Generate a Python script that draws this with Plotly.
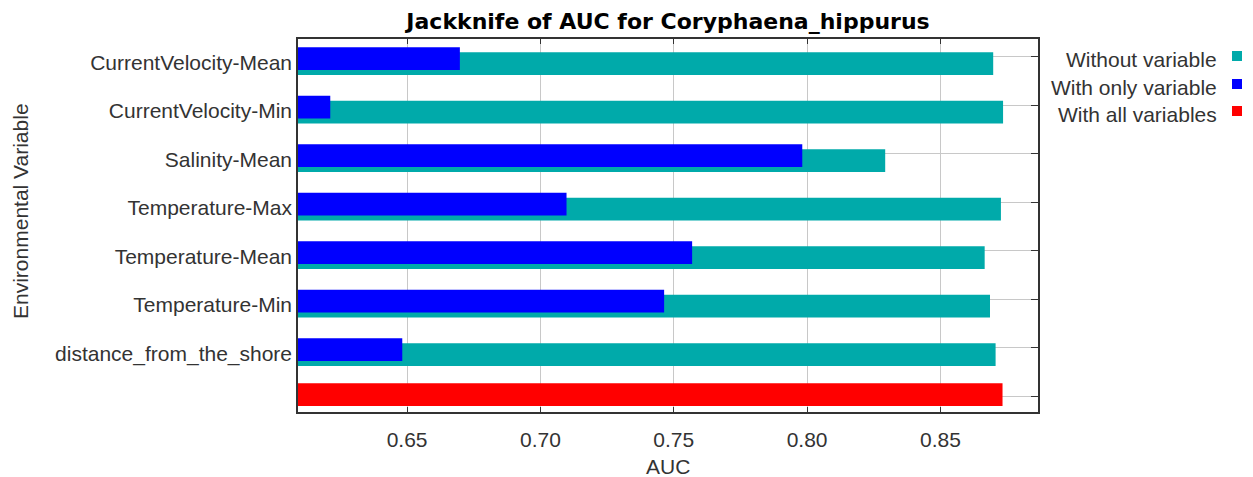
import plotly.graph_objects as go

# Jackknife test results (AUC) for each environmental variable
variables = [
    "CurrentVelocity-Mean",
    "CurrentVelocity-Min",
    "Salinity-Mean",
    "Temperature-Max",
    "Temperature-Mean",
    "Temperature-Min",
    "distance_from_the_shore",
]
without_variable = [0.8698, 0.8735, 0.8293, 0.8727, 0.8666, 0.8686, 0.8707]
with_only_variable = [0.6698, 0.6212, 0.7982, 0.7098, 0.7569, 0.7464, 0.6482]
with_all_variables = 0.8733

legend_labels = ["Without variable", "With only variable", "With all variables"]
colors = ["#00AAAA", "#0000FF", "#FF0000"]

x_ticks = [0.65, 0.70, 0.75, 0.80, 0.85]
x_range = [0.6091, 0.8866]

# numeric row positions: one row per variable plus the "all variables" row
rows = list(range(len(variables)))
all_row = len(variables)

FONT = "Liberation Sans, Arial, sans-serif"
TEXT_GRAY = "#333333"
BAR_W = 0.468

fig = go.Figure()

fig.add_trace(go.Bar(
    y=rows, x=[v - x_range[0] for v in without_variable], orientation="h",
    base=x_range[0], name=legend_labels[0],
    marker=dict(color=colors[0], line=dict(width=0)),
    width=BAR_W, offset=-0.087, showlegend=False,
))
fig.add_trace(go.Bar(
    y=rows, x=[v - x_range[0] for v in with_only_variable], orientation="h",
    base=x_range[0], name=legend_labels[1],
    marker=dict(color=colors[1], line=dict(width=0)),
    width=BAR_W, offset=-0.190, showlegend=False,
))
fig.add_trace(go.Bar(
    y=[all_row], x=[with_all_variables - x_range[0]], orientation="h",
    base=x_range[0], name=legend_labels[2],
    marker=dict(color=colors[2], line=dict(width=0)),
    width=BAR_W, offset=-0.262, showlegend=False,
))

fig.update_layout(
    width=1253, height=477,
    margin=dict(l=298, r=215, t=39, b=65),
    paper_bgcolor="white", plot_bgcolor="white",
    barmode="overlay",
    font=dict(family=FONT, size=21, color=TEXT_GRAY),
    title=dict(
        text="<b>Jackknife of AUC for Coryphaena_hippurus</b>",
        x=0.5, xref="paper", xanchor="center",
        y=1 - 21 / 477, yanchor="middle",
        font=dict(family="DejaVu Sans, sans-serif", size=22, color="black"),
    ),
)

fig.update_xaxes(
    range=x_range,
    tickvals=x_ticks,
    ticktext=[f"{v:.2f}" for v in x_ticks],
    showgrid=True, gridcolor="#c8c8c8", gridwidth=1,
    ticks="inside", ticklen=5, tickcolor="#333333",
    showline=True, linecolor="#333333", linewidth=1.5,
    mirror="ticks",
    zeroline=False,
    ticklabelstandoff=8,
    tickfont=dict(size=21, color=TEXT_GRAY),
)

fig.update_yaxes(
    range=[7.330, -0.361],
    tickvals=[r + 0.124 for r in rows],
    ticktext=variables,
    ticks="",
    showgrid=False,
    minor=dict(
        tickvals=rows + [all_row],
        showgrid=True, gridcolor="#c8c8c8", gridwidth=1,
        ticks="inside", ticklen=7, tickcolor="#333333",
    ),
    showline=True, linecolor="#333333", linewidth=1.5,
    mirror="ticks",
    zeroline=False,
    layer="below traces",
    tickfont=dict(size=21, color=TEXT_GRAY),
)

# axis titles
fig.add_annotation(
    text="AUC", xref="paper", yref="paper",
    x=0.5, y=(412 - 467) / 373, xanchor="center", yanchor="middle",
    showarrow=False, font=dict(size=21, color=TEXT_GRAY),
)
fig.add_annotation(
    text="Environmental Variable", xref="paper", yref="paper",
    x=(20 - 298) / 740, y=(412 - 211) / 373, xanchor="center", yanchor="middle",
    textangle=-90, showarrow=False, font=dict(size=21, color=TEXT_GRAY),
)

# legend: right-aligned labels with a colour swatch to their right
legend_text_y = [59, 87, 114]
for label, color, ty in zip(legend_labels, colors, legend_text_y):
    fig.add_annotation(
        text=label, xref="paper", yref="paper",
        x=(1219 - 298) / 740, y=(412 - ty) / 373,
        xanchor="right", yanchor="middle", showarrow=False,
        font=dict(size=21, color=TEXT_GRAY),
    )
    sy = ty - 3
    fig.add_shape(
        type="rect", xref="paper", yref="paper",
        x0=(1232 - 298) / 740, x1=(1242 - 298) / 740,
        y0=(412 - sy - 5) / 373, y1=(412 - sy + 5) / 373,
        fillcolor=color, line=dict(width=0),
    )

fig.write_html("out.html")
